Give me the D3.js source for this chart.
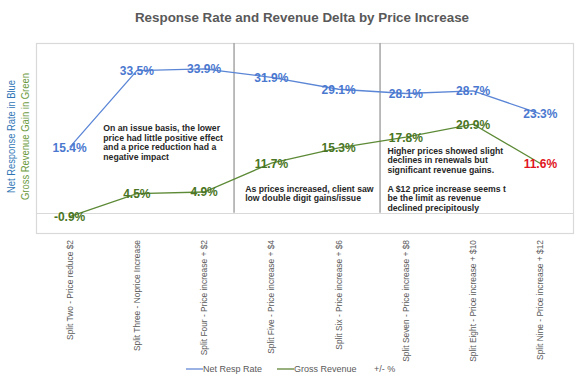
<!DOCTYPE html>
<html><head><meta charset="utf-8">
<script src="https://cdn.jsdelivr.net/npm/d3@7"></script>
<style>
html,body{margin:0;padding:0;background:#fff;}
svg{display:block;font-family:"Liberation Sans",Arial,sans-serif;}
</style></head>
<body><svg id="chart" width="580" height="381"></svg>
<script>
const categories = [
  "Split Two - Price reduce $2",
  "Split Three - Noprice Increase",
  "Split Four - Price increase + $2",
  "Split Five - Price increase + $4",
  "Split Six - Price increase + $6",
  "Split Seven - Price increase + $8",
  "Split Eight - Price increase + $10",
  "Split Nine - Price increase + $12"
];
const netRespRate = [15.4, 33.5, 33.9, 31.9, 29.1, 28.1, 28.7, 23.3];
const grossRevenue = [-0.9, 4.5, 4.9, 11.7, 15.3, 17.8, 20.9, 11.6];
const yDomain = [-5, 40];
const separatorsAt = [2.445, 4.616];
const annotations = [
  {i: 0.50, v: 19.15, lines: ["On an issue basis, the lower", "price had little positive effect", "and a price reduction had a", "negative impact"]},
  {i: 2.61, v: 4.9, lines: ["As prices increased, client saw", "low double digit gains/issue"]},
  {i: 4.725, v: 13.92, lines: ["Higher prices showed slight", "declines in renewals but", "significant revenue gains.", "", "A $12 price increase seems t", "be the limit as revenue", "declined precipitously"]}
];
const legendItems = [
  {label: "Net Resp Rate", color: "#6f93d8", line: true},
  {label: "Gross Revenue", color: "#6a8f45", line: true},
  {label: "+/- %", color: null, line: false}
];

const svg = d3.select("#chart");
const plot = {left: 36, right: 574, top: 43, bottom: 234};

const x = d3.scaleBand().domain(categories).range([plot.left, plot.right]).padding(0);
const xc = c => x(c) + x.bandwidth() / 2;
const xi = d3.scaleLinear().domain([0, 1]).range([xc(categories[0]), xc(categories[1])]);
const y = d3.scaleLinear().domain(yDomain).range([plot.bottom, plot.top]);

// title
svg.append("text").attr("x", 302).attr("y", 21.5).attr("text-anchor", "middle")
  .attr("font-size", 13.4).attr("font-weight", "bold").attr("fill", "#595959")
  .text("Response Rate and Revenue Delta by Price Increase");

// frame
svg.append("rect").attr("x", plot.left + 0.5).attr("y", plot.top + 0.5)
  .attr("width", plot.right - plot.left - 1).attr("height", plot.bottom - plot.top - 1)
  .attr("fill", "none").attr("stroke", "#d9d9d9").attr("stroke-width", 1.2);

// zero line
svg.append("line").attr("x1", plot.left).attr("x2", plot.right)
  .attr("y1", Math.round(y(0)) + 0.5).attr("y2", Math.round(y(0)) + 0.5)
  .attr("stroke", "#d9d9d9").attr("stroke-width", 1);

// separators
svg.selectAll(".sep").data(separatorsAt).join("line")
  .attr("x1", d => xi(d)).attr("x2", d => xi(d))
  .attr("y1", plot.top).attr("y2", y(0))
  .attr("stroke", "#a6a6a6").attr("stroke-width", 1.5);

// x axis tick labels (rotated)
const xAxis = d3.axisBottom(x).tickSize(0).tickPadding(0);
const gx = svg.append("g").attr("transform", `translate(0,${plot.bottom})`).call(xAxis);
gx.select(".domain").remove();
gx.selectAll("text")
  .attr("font-size", 8.4).attr("fill", "#595959").attr("font-family", "Liberation Sans, Arial, sans-serif")
  .attr("text-anchor", "end").attr("dy", null)
  .attr("transform", "translate(3,6) rotate(-90)");

// y axis titles
svg.append("text").attr("transform", "translate(14.5,136.5) rotate(-90)").attr("text-anchor", "middle")
  .attr("font-size", 10.5).attr("fill", "#2e75b6")
  .attr("textLength", 113).attr("lengthAdjust", "spacingAndGlyphs").text("Net Response Rate in Blue");
svg.append("text").attr("transform", "translate(28.5,136.5) rotate(-90)").attr("text-anchor", "middle")
  .attr("font-size", 10.5).attr("fill", "#6b9a3e")
  .attr("textLength", 127).attr("lengthAdjust", "spacingAndGlyphs").text("Gross Revenue Gain in Green");

// lines
const line = d3.line().x((d, i) => xc(categories[i])).y(d => y(d));
svg.append("path").datum(netRespRate).attr("d", line).attr("fill", "none")
  .attr("stroke", "#5b86d6").attr("stroke-width", 1.3);
svg.append("path").datum(grossRevenue).attr("d", line).attr("fill", "none")
  .attr("stroke", "#5d8a36").attr("stroke-width", 1.3);

// data labels
const lab = svg.append("g").attr("font-size", 12).attr("font-weight", "bold").attr("text-anchor", "middle");
lab.selectAll(".nr").data(netRespRate).join("text")
  .attr("x", (d, i) => xc(categories[i])).attr("y", d => y(d) + 4.5)
  .attr("fill", "#4a78cf").text(d => d.toFixed(1) + "%");
lab.selectAll(".gr").data(grossRevenue).join("text")
  .attr("x", (d, i) => xc(categories[i])).attr("y", d => y(d) + 4.5)
  .attr("fill", (d, i) => i === grossRevenue.length - 1 ? "#e0141c" : "#4a7524")
  .text(d => d.toFixed(1) + "%");

// annotations
annotations.forEach(a => {
  const t = svg.append("text").attr("font-size", 8.7).attr("font-weight", "bold").attr("fill", "#262626");
  a.lines.forEach((s, k) => {
    t.append("tspan").attr("x", xi(a.i)).attr("y", y(a.v) + k * 9.5).text(s);
  });
});

// legend
const lg = svg.append("g").attr("font-size", 9).attr("fill", "#595959");
const legendX = [186, 277, 374];
legendItems.forEach((d, k) => {
  const g = lg.append("g").attr("transform", `translate(${legendX[k]},369)`);
  if (d.line) {
    g.append("line").attr("x1", 0).attr("x2", 17).attr("y1", 0).attr("y2", 0)
      .attr("stroke", d.color).attr("stroke-width", 1.4);
  }
  g.append("text").attr("x", d.line ? 17 : 0).attr("y", 3).text(d.label);
});
</script></body></html>
